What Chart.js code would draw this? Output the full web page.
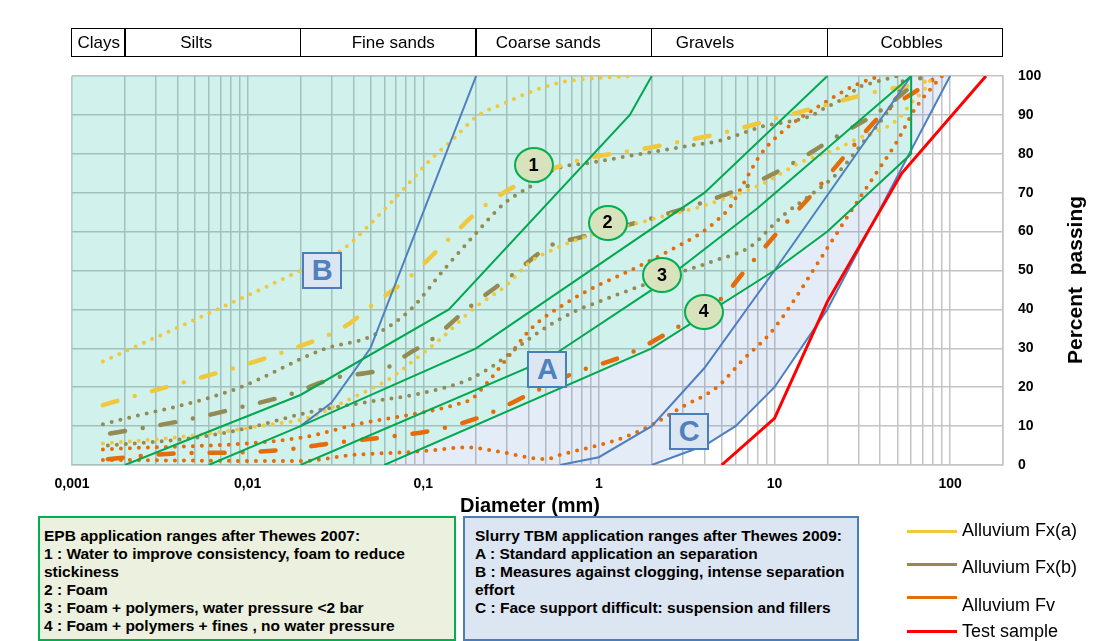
<!DOCTYPE html>
<html>
<head>
<meta charset="utf-8">
<script src="https://cdn.jsdelivr.net/npm/chart.js@4.4.1/dist/chart.umd.min.js"></script>
<style>
html,body{margin:0;padding:0;background:#fff;}
#wrap{position:relative;width:1106px;height:641px;overflow:hidden;font-family:'Liberation Sans',Arial,sans-serif;color:#000;}
#c{position:absolute;left:0;top:0;}
.abs{position:absolute;}
.ctr{transform:translate(-50%,-50%);white-space:nowrap;}
.circ{position:absolute;box-sizing:border-box;width:40px;height:36px;border:2.5px solid #00b050;border-radius:50%;background:#d8e2bd;display:flex;align-items:center;justify-content:center;font-weight:bold;font-size:18px;}
.sq{position:absolute;box-sizing:border-box;width:40px;height:37px;border:2px solid #4a7ebb;background:#dce6f2;color:#4f81bd;display:flex;align-items:center;justify-content:center;font-weight:bold;font-size:29px;}
.box{position:absolute;box-sizing:border-box;padding:9px 0 0 4px;font-weight:bold;font-size:15.5px;line-height:18px;white-space:nowrap;}
.leg{position:absolute;height:3px;width:50px;left:907px;}
.legt{position:absolute;left:962px;font-size:18px;transform:translateY(-50%);white-space:nowrap;}
</style>
</head>
<body>
<div id="wrap">
<canvas id="c" width="1106" height="520"></canvas>
</div>
<script>
// ---------- axis / category data ----------
const xTickValues = [0.001, 0.01, 0.1, 1, 10, 100];
const xTickLabels = ['0,001', '0,01', '0,1', '1', '10', '100'];
const soilClasses = ['Clays', 'Silts', 'Fine sands', 'Coarse sands', 'Gravels', 'Cobbles'];
const soilBounds = [0.001, 0.002, 0.02, 0.2, 2, 20, 200];

// ---------- EPB application range boundaries (Thewes 2007) [diameter mm, % passing] ----------
const epb1 = [[0.002,0],[0.02,18],[0.14,40],[1.5,90],[2,100]];
const epb2 = [[0.006,0],[0.02,10],[0.2,30],[4,70],[20,100]];
const epb3 = [[0.02,0],[0.5,27],[2,45],[8,66],[60,100]];
const epb4 = [[0.06,0],[2,30],[10,50],[20,60],[60,80],[60,100]];

// ---------- Slurry application range boundaries (Thewes 2009) ----------
const slurryB = [[0.02,10],[0.03,16],[0.05,30],[0.2,100]];
const slurryA = [[0.6,0],[1,2],[2,10],[4,25],[10,50],[60,100]];
const slurryC = [[2,0],[4,5],[6,10],[10,20],[20,40],[100,100]];

// ---------- Alluvium Fx(a) ----------
const fxa1 = [[0.0015,26.6],[0.018,49],[0.035,55.5],[0.05,62],[0.074,70],[0.11,78.5],[0.15,84],[0.2,89.5],[0.29,93],[0.43,96.3],[0.63,98.5],[1.5,100]];
const fxa2 = [[0.0015,15.4],[0.02,30.6],[0.037,36],[0.049,40.4],[0.084,48.4],[0.135,57.4],[0.22,66.4],[0.36,72.5],[0.7,77.8],[2,81.7],[5.4,85.7],[10,89],[20,92.7],[38,96],[74,98.7],[85,100]];
const fxa3 = [[0.0015,5.5],[0.0043,7.3],[0.011,9.8],[0.023,12.4],[0.031,15],[0.051,19.7],[0.063,21.9],[0.105,29.6],[0.13,33],[0.194,40.3],[0.29,45.8],[0.41,52.3],[0.57,55.7],[0.84,58.7],[1.64,62.1],[2.5,64.3],[3.8,66.4],[5.6,69],[8.3,72],[15,78.4],[22,81],[30,84],[44,87],[52,89.5],[60,93],[71,96.4],[80,100]];

// ---------- Alluvium Fx(b) ----------
const fxb1 = [[0.0015,10.5],[0.0083,19.3],[0.028,30],[0.05,33],[0.084,39.8],[0.13,50],[0.2,59.6],[0.29,67.3],[0.42,72],[0.56,76],[0.9,77.7],[1.6,79.7],[3,81.8],[5,83.5],[8.5,87],[15.6,89.5],[20,92.1],[25,94.3],[30.6,97.2],[38,98.5],[50,100]];
const fxb2 = [[0.00165,8.1],[0.0045,11.6],[0.0087,14.6],[0.017,18],[0.031,22.3],[0.062,25],[0.083,28.7],[0.11,32],[0.18,40.3],[0.32,48.8],[0.54,56.6],[0.75,58.3],[2,63.4],[3.8,67.3],[7.6,72.4],[13,77.8],[22.5,84.4],[42,91.7],[70,100]];
const fxb3 = [[0.0016,5],[0.005,7],[0.01,9.5],[0.023,13.7],[0.044,15.9],[0.096,18.4],[0.18,21.9],[0.26,26],[0.33,29.6],[0.46,34.3],[0.72,39.4],[1,42],[1.5,45],[3.1,50],[4.7,52.7],[7.2,56],[11.3,64.3],[16.5,69.8],[22.8,75],[32,83],[42,89.5],[50,95],[55,100]];

// ---------- Alluvium Fv ----------
const fv1 = [[0.0015,4],[0.02,7],[0.044,10.7],[0.084,12.9],[0.15,15.4],[0.19,17.1],[0.22,20],[0.3,27.4],[0.41,35],[0.65,41.6],[1,46.3],[1.43,49.5],[2.45,54.8],[3.8,59.6],[4.6,62.5],[5.6,66.4],[6.6,72],[8.3,79.7],[11.3,86],[19,93],[30,98],[40,100]];
const fv2 = [[0.0016,1.5],[0.004,3],[0.008,3.2],[0.016,3.9],[0.03,5.6],[0.059,7.1],[0.116,9],[0.22,12.6],[0.41,18.4],[0.72,23.6],[1.43,28.3],[2.45,33.9],[5,42.9],[6.8,50],[10.5,60],[17,70.4],[26,80.2],[40,89.7],[74,98],[85,100]];
const fv3 = [[0.0015,1.3],[0.02,1],[0.04,2.6],[0.09,3.4],[0.18,4.5],[0.27,3.4],[0.5,1.5],[0.6,2.6],[1,5.1],[1.43,7.3],[2,10.3],[3,15],[4.7,20],[6.6,27],[9.5,34],[12.6,41.6],[16.4,49.7],[26,63.8],[36.6,74],[49.6,83],[62.6,91.3],[81,97.7],[90,100]];

// ---------- Test sample ----------
const testSample = [[5,0],[10,12],[20,42],[53,75],[160,100]];

// ---------- labels ----------
const epbZones = ['1','2','3','4'];
const slurryZones = ['A','B','C'];
const legendLabels = ['Alluvium Fx(a)', 'Alluvium Fx(b)', 'Alluvium Fv', 'Test sample'];
const epbText = ['EPB application ranges after Thewes 2007:', '1 : Water to improve consistency, foam to reduce', 'stickiness', '2 : Foam', '3 : Foam + polymers,  water pressure &lt;2 bar', '4 : Foam + polymers  + fines , no water pressure'];
const slurryText = ['Slurry TBM application ranges after Thewes 2009:', 'A : Standard application an separation', 'B : Measures against clogging, intense separation', 'effort', 'C : Face support difficult: suspension and fillers'];

// ---------- styling / layout (not data) ----------
const COL = {yel:'#f0c83c', oli:'#948a54', ora:'#e46c0a', red:'#ff0000', grn:'#00a84f', blu:'#4f7fc0'};
const zoneLabelAt = {'1':[0.425,77.1],'2':[1.12,62.3],'3':[2.29,48.8],'4':[3.95,39.4],'A':[0.509,24.5],'B':[0.0266,50],'C':[3.27,8.6]};
const soilLabelAt = [0.00142, 0.0051, 0.0675, 0.515, 4.02, 60.4];

const gridValues = [];
for (let e = -3; e <= 1; e++) for (let m = 1; m <= 9; m++) gridValues.push(parseFloat((m * Math.pow(10, e)).toPrecision(3)));
gridValues.push(100, 200);

function mk(label, arr, color, style, order) {
  const ds = {label, data: arr.map(([x, y]) => ({x, y})), borderColor: color, backgroundColor: color,
    showLine: true, pointRadius: 0, pointHoverRadius: 0, fill: false, order, tension: 0};
  if (style === 'solid') { ds.borderWidth = 2; }
  else if (style === 'thick') { ds.borderWidth = 3; }
  else if (style === 'dot') { ds.borderWidth = 4; ds.borderDash = [0, 9]; ds.borderCapStyle = 'round'; ds.cubicInterpolationMode = 'monotone'; }
  else if (style === 'dashdot') { ds.borderWidth = 4.5; ds.borderDash = [15, 18, 0, 18]; ds.borderCapStyle = 'round'; ds.cubicInterpolationMode = 'monotone'; }
  return ds;
}

const datasets = [
  mk('Test sample', testSample, COL.red, 'thick', 0),
  mk('EPB 1', epb1, COL.grn, 'solid', 1),
  mk('EPB 2', epb2, COL.grn, 'solid', 1),
  mk('EPB 3', epb3, COL.grn, 'solid', 1),
  mk('EPB 4', epb4, COL.grn, 'solid', 1),
  mk('Slurry B', slurryB, COL.blu, 'solid', 2),
  mk('Slurry A', slurryA, COL.blu, 'solid', 2),
  mk('Slurry C', slurryC, COL.blu, 'solid', 2),
  mk('Fx(a) 1', fxa1, COL.yel, 'dot', 3),
  mk('Fx(a) 2', fxa2, COL.yel, 'dashdot', 3),
  mk('Fx(a) 3', fxa3, COL.yel, 'dot', 3),
  mk('Fx(b) 1', fxb1, COL.oli, 'dot', 3),
  mk('Fx(b) 2', fxb2, COL.oli, 'dashdot', 3),
  mk('Fx(b) 3', fxb3, COL.oli, 'dot', 3),
  mk('Fv 1', fv1, COL.ora, 'dot', 3),
  mk('Fv 2', fv2, COL.ora, 'dashdot', 3),
  mk('Fv 3', fv3, COL.ora, 'dot', 3)
];

const zonesPlugin = {
  id: 'zones',
  beforeDatasetsDraw(chart) {
    const {ctx, chartArea: a, scales: {x, y}} = chart;
    const P = (d) => [x.getPixelForValue(d[0]), y.getPixelForValue(d[1])];
    const poly = (pts, fill) => {
      ctx.beginPath();
      pts.forEach((p, i) => { const q = P(p); if (i) ctx.lineTo(q[0], q[1]); else ctx.moveTo(q[0], q[1]); });
      ctx.closePath(); ctx.fillStyle = fill; ctx.fill();
    };
    ctx.save();
    ctx.beginPath(); ctx.rect(a.left, a.top, a.right - a.left, a.bottom - a.top); ctx.clip();
    const xmin = x.min;
    // slurry field (light blue): between EPB lower limit and slurry C limit
    const lb = [epb4[0]].concat(slurryC, [[slurryC[slurryC.length-1][0], 100]], epb4.slice().reverse());
    poly(lb, 'rgba(75,128,202,0.15)');
    // EPB field (light teal)
    const tl = [[xmin, 0]].concat(epb4, [[xmin, 100]]);
    poly(tl, 'rgba(0,178,150,0.185)');
    ctx.restore();
  }
};

const gridCol = '#c4c4c4';
const chart = new Chart(document.getElementById('c'), {
  type: 'scatter',
  data: {datasets},
  plugins: [zonesPlugin],
  options: {
    responsive: false, animation: false, devicePixelRatio: 1,
    layout: {padding: {left: 72, top: 76, right: 0, bottom: 0}},
    plugins: {legend: {display: false}, tooltip: {enabled: false}},
    scales: {
      x: {
        type: 'logarithmic', min: 0.001, max: 200, position: 'bottom',
        afterBuildTicks: (s) => { s.ticks = gridValues.map(v => ({value: v})); },
        afterFit: (s) => { s.height = 55; },
        grid: {color: gridCol, lineWidth: 1.5, drawTicks: false},
        border: {display: true, color: gridCol, width: 1.5},
        ticks: {autoSkip: false, maxRotation: 0, minRotation: 0, padding: 11, color: '#000',
          font: {family: 'Liberation Sans', size: 14, weight: 'bold'},
          callback: (v) => { const i = xTickValues.findIndex(t => Math.abs(t - v) / t < 1e-6); return i >= 0 ? xTickLabels[i] : ''; }}
      },
      y: {
        type: 'linear', min: 0, max: 100, position: 'right',
        afterFit: (s) => { s.width = 103; },
        grid: {color: gridCol, lineWidth: 1.5, drawTicks: false},
        border: {display: true, color: gridCol, width: 1.5},
        ticks: {stepSize: 10, padding: 15, color: '#000', font: {family: 'Liberation Sans', size: 14, weight: 'bold'}}
      }
    }
  }
});

// ---------- HTML overlays positioned through the chart scales ----------
const wrap = document.getElementById('wrap');
const xs = chart.scales.x, ys = chart.scales.y;
function el(cls, html, css) { const d = document.createElement('div'); d.className = cls; d.innerHTML = html; Object.assign(d.style, css); wrap.appendChild(d); return d; }

// soil class header
const hL = xs.getPixelForValue(soilBounds[0]), hR = xs.getPixelForValue(soilBounds[soilBounds.length - 1]);
el('abs', '', {left: (hL - 1) + 'px', top: '28px', width: (hR - hL + 1) + 'px', height: '29px', border: '1.5px solid #000', boxSizing: 'border-box'});
soilBounds.slice(1, -1).forEach(b => {
  const px = xs.getPixelForValue(b);
  el('abs', '', {left: (px - 0.75) + 'px', top: '28px', width: '1.5px', height: '29px', background: '#000'});
});
soilClasses.forEach((t, i) => {
  el('abs ctr', t, {left: xs.getPixelForValue(soilLabelAt[i]) + 'px', top: '42.5px', fontSize: '17px'});
});

// zone markers
epbZones.forEach(z => {
  const [d, p] = zoneLabelAt[z];
  el('circ', z, {left: (xs.getPixelForValue(d) - 20) + 'px', top: (ys.getPixelForValue(p) - 18) + 'px'});
});
slurryZones.forEach(z => {
  const [d, p] = zoneLabelAt[z];
  el('sq', z, {left: (xs.getPixelForValue(d) - 20) + 'px', top: (ys.getPixelForValue(p) - 18.5) + 'px'});
});

// axis titles
el('abs ctr', 'Diameter (mm)', {left: '530px', top: '505px', fontSize: '20px', fontWeight: 'bold'});
el('abs', 'Percent&nbsp; passing', {left: '1075px', top: '280px', fontSize: '21px', fontWeight: 'bold', transform: 'translate(-50%,-50%) rotate(-90deg)', whiteSpace: 'nowrap'});

// explanation boxes
el('box', epbText.join('<br>'), {left: '38px', top: '516px', width: '418px', height: '125px', border: '2px solid #00b050', background: '#ebf1de'});
el('box', slurryText.join('<br>'), {left: '463px', top: '516px', width: '396px', height: '125px', border: '2px solid #4a7ebb', background: '#dce6f2', paddingLeft: '10px'});

// legend
const legCols = [COL.yel, COL.oli, COL.ora, COL.red];
const legLineY = [531, 564, 597, 631];
const legTextY = [530, 567, 605, 631];
legendLabels.forEach((t, i) => {
  el('leg', '', {top: (legLineY[i] - 1.5) + 'px', background: legCols[i]});
  el('legt', t, {top: legTextY[i] + 'px'});
});
</script>
</body>
</html>
